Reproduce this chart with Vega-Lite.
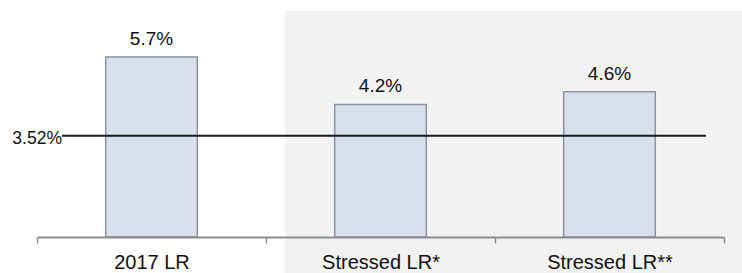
{
  "$schema": "https://vega.github.io/schema/vega-lite/v6.json",
  "autosize": "none",
  "width": 687,
  "height": 221,
  "padding": {"left": 37, "top": 16, "right": 18, "bottom": 36},
  "config": {"view": {"stroke": null}, "font": "Liberation Sans"},
  "datasets": {
    "bars": [
      {"category": "2017 LR", "value": 0.057},
      {"category": "Stressed LR*", "value": 0.042},
      {"category": "Stressed LR**", "value": 0.046}
    ],
    "region": [
      {"from": "Stressed LR*", "to": "Stressed LR**", "top": 0.0716, "bottom": -0.0114}
    ],
    "threshold": [
      {"from": "2017 LR", "to": "Stressed LR**", "value": 0.0321, "label": "3.52%"}
    ]
  },
  "encoding": {
    "x": {
      "field": "category",
      "type": "nominal",
      "sort": ["2017 LR", "Stressed LR*", "Stressed LR**"],
      "scale": {"domain": ["2017 LR", "Stressed LR*", "Stressed LR**"], "paddingInner": 0, "paddingOuter": 0},
      "axis": {
        "title": null,
        "labelAngle": 0,
        "tickBand": "extent",
        "domainColor": "#8c8c8c",
        "domainWidth": 2,
        "tickColor": "#8c8c8c",
        "tickWidth": 1.5,
        "tickSize": 6,
        "labelFontSize": 20,
        "labelColor": "#111111",
        "labelBaseline": "alphabetic",
        "labelPadding": 25
      }
    }
  },
  "layer": [
    {
      "data": {"name": "region"},
      "mark": {"type": "rect", "color": "#f2f2f2", "clip": false},
      "encoding": {
        "x": {"field": "from", "type": "nominal", "bandPosition": 0.083},
        "x2": {"field": "to", "bandPosition": 1.08},
        "y": {"field": "top", "type": "quantitative", "scale": {"domain": [0, 0.07], "nice": false, "zero": false}, "axis": null},
        "y2": {"field": "bottom"}
      }
    },
    {
      "data": {"name": "bars"},
      "mark": {"type": "bar", "width": {"band": 0.4}, "fill": "#d9e0ec", "stroke": "#8a93a3", "strokeWidth": 1.5},
      "encoding": {
        "y": {"field": "value", "type": "quantitative"}
      }
    },
    {
      "data": {"name": "bars"},
      "mark": {"type": "text", "baseline": "alphabetic", "dy": -12, "fontSize": 19, "color": "#111111"},
      "encoding": {
        "y": {"field": "value", "type": "quantitative"},
        "text": {"field": "value", "type": "quantitative", "format": ".1%"}
      }
    },
    {
      "data": {"name": "threshold"},
      "mark": {"type": "rule", "color": "#1a1a1a", "strokeWidth": 2},
      "encoding": {
        "x": {"field": "from", "type": "nominal", "bandPosition": 0.109},
        "x2": {"field": "to", "bandPosition": 0.921},
        "y": {"field": "value", "type": "quantitative"}
      }
    },
    {
      "data": {"name": "threshold"},
      "mark": {"type": "text", "align": "right", "baseline": "middle", "dy": 3, "fontSize": 17.5, "color": "#111111"},
      "encoding": {
        "x": {"field": "from", "type": "nominal", "bandPosition": 0.109},
        "y": {"field": "value", "type": "quantitative"},
        "text": {"field": "label", "type": "nominal"}
      }
    }
  ]
}
